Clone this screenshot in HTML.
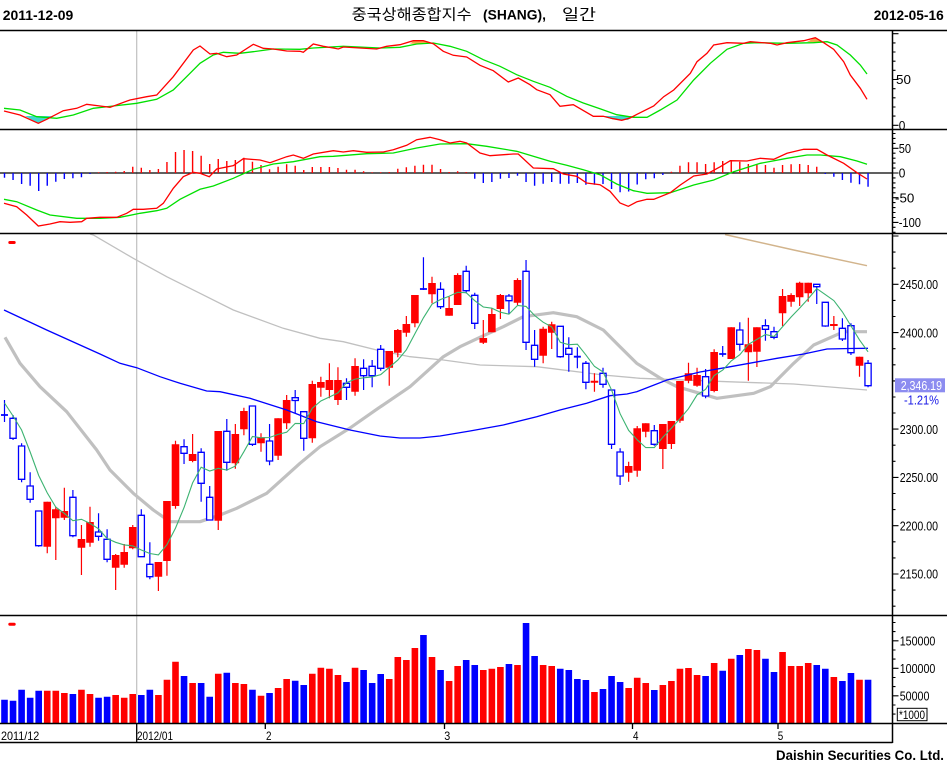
<!DOCTYPE html>
<html><head><meta charset="utf-8"><style>
html,body{margin:0;padding:0;background:#fff;}
svg{display:block;}
text{font-family:"Liberation Sans",sans-serif;}
</style></head><body>
<svg width="947" height="767" viewBox="0 0 947 767" xmlns="http://www.w3.org/2000/svg">
<rect width="947" height="767" fill="#fff"/>
<!-- header -->
<text x="2.7" y="20" font-size="14" font-weight="bold" textLength="70.6" lengthAdjust="spacingAndGlyphs">2011-12-09</text>
<text x="873.7" y="20" font-size="14" font-weight="bold" textLength="70" lengthAdjust="spacingAndGlyphs">2012-05-16</text>
<text x="351.7" y="19.5" font-size="15" textLength="120" lengthAdjust="spacingAndGlyphs" style="font-family:'Liberation Sans','Noto Sans CJK KR',sans-serif">중국상해종합지수</text>
<text x="483" y="19.5" font-size="14" font-weight="bold" textLength="63" lengthAdjust="spacingAndGlyphs">(SHANG),</text>
<text x="562" y="19.5" font-size="15" textLength="34" lengthAdjust="spacingAndGlyphs" style="font-family:'Liberation Sans','Noto Sans CJK KR',sans-serif">일간</text>

<!-- vertical month separator -->
<path d="M136.7 30V723" stroke="#c0c0c0" stroke-width="1.2" fill="none"/>

<!-- STOCHASTIC PANEL -->
<polygon points="25,116 51.7,116 38.3,123.3" fill="#40d8d0"/>
<polygon points="601,116 633,116 628,120 613,119.5" fill="#40d8d0"/>
<polygon points="410,43.5 414,40.7 423.3,40.7 431.7,43.3 420,44.2" fill="#f5a44a"/>
<polygon points="807,41.7 815.3,37.7 823.7,42.7 815,42.6" fill="#f5a44a"/>
<polyline fill="none" stroke="#00e000" stroke-width="1.3" points="4,108.3 20,110 36.7,116.7 56.7,118.3 73.3,115 93.3,108.3 113.3,106 136.7,103.3 156.7,99.3 173.3,90 190,73.3 200,63.3 213.3,55 223.3,52.3 240,53.3 253.3,51.7 273.3,49 300,49.3 313.3,48 343.3,46.3 380,48 400,47.3 416.7,44 433.3,43 450,46.3 466.7,51.3 483.3,59.7 500,66.3 516.7,74.7 533.3,81.3 550,87.3 566.7,96.3 583.3,103 600,108.7 616.7,114.7 633.3,117.3 647,117.3 660.3,110 677,100 693.7,80 710.3,63.3 727,49.3 743.7,43.3 757,42.7 787,43.3 813.7,42.7 827,41.7 837,45 850.3,55 860.3,65 867,74"/>
<polyline fill="none" stroke="#ff0000" stroke-width="1.3" points="4,111 20,115 38.3,123.3 46.7,119.3 63.3,110.7 76.7,108.3 86.7,104.3 100,106 110,107.3 130,100 146.7,96.7 156.7,95 173.3,76.7 193.3,50 200,46 210,54 216.7,53.3 226.7,56.7 236.7,55 253.3,44.3 263.3,48.3 273.3,49 286.7,51 300,51.3 303.3,52.3 313.3,44 323.3,46.3 333.3,48 338.3,49 343.3,47 360,48 376.7,49 386.7,46.3 400,44.7 413.3,40.7 423.3,40.7 433.3,43.7 443.3,51.3 453.3,55.3 466.7,57 480,65.3 493.3,70.7 508.3,82 518.3,78 530,84.7 536.7,89.7 550,94.7 560,106.3 573.3,104.7 593.3,116.3 603.3,116.3 613.3,118.7 621.7,120.3 630,118 637,114.3 653.7,106 663.7,96.7 673.7,90 690.3,73.3 697,61.7 707,53.3 713.7,45 727,42.7 743.7,43.3 750.3,41.7 770.3,43.3 777,45 787,42.7 803.7,40.7 815.3,37.7 823.7,42.7 833.7,49.3 843.7,61.7 850.3,75 860.3,88.3 867,99.3"/>

<!-- MACD PANEL -->
<path d="M0 173H892.5" stroke="#000" stroke-width="1.2"/>
<path fill="none" stroke="#0000ff" stroke-width="1.4" d="M4.5 173V177.7M13.05 173V180M21.6 173V184M30.15 173V185.7M38.7 173V191M47.25 173V185.7M55.8 173V181.7M64.35 173V179M72.9 173V178.3M81.45 173V177.3M90 173V174M474.75 173V178.7M483.3 173V183M491.85 173V182M500.4 173V178.7M508.95 173V178M517.5 173V175.7M526.05 173V182M534.6 173V185.7M543.15 173V183.7M551.7 173V182M560.25 173V183.7M568.8 173V183.7M577.35 173V183M585.9 173V184.7M594.45 173V184.7M603 173V184M611.55 173V189M620.1 173V192.3M628.65 173V191.5M637.2 173V184.5M645.75 173V179.3M654.3 173V178.3M662.85 173V175M825.3 173V174M833.85 173V176.7M842.4 173V180M850.95 173V182.7M859.5 173V184.3M868.05 173V186.7"/>
<path fill="none" stroke="#ff0000" stroke-width="1.4" d="M98.55 173V172.3M107.1 173V172M115.65 173V171.7M124.2 173V171M132.75 173V166.7M141.3 173V167.7M149.85 173V170M158.4 173V169M166.95 173V162M175.5 173V152M184.05 173V150M192.6 173V151M201.15 173V155.7M209.7 173V164M218.25 173V159M226.8 173V161M235.35 173V160M243.9 173V157.7M252.45 173V161.7M261 173V165M269.55 173V169.3M278.1 173V166.7M286.65 173V164.3M295.2 173V165.7M303.75 173V170M312.3 173V167M320.85 173V167M329.4 173V167M337.95 173V168M346.5 173V169.7M355.05 173V169.7M363.6 173V171.3M372.15 173V172.3M380.7 173V172.3M389.25 173V172M397.8 173V168.7M406.35 173V167.3M414.9 173V165.7M423.45 173V164.7M432 173V164.7M440.55 173V169M449.1 173V172M457.65 173V171.3M466.2 173V172M671.4 173V171.7M679.95 173V165.7M688.5 173V162.3M697.05 173V162.3M705.6 173V164M714.15 173V162.3M722.7 173V161M731.25 173V160M739.8 173V161.7M748.35 173V164M756.9 173V164M765.45 173V165M774 173V167.7M782.55 173V165M791.1 173V164.3M799.65 173V164M808.2 173V165M816.75 173V166.7"/>
<polyline fill="none" stroke="#00e000" stroke-width="1.3" points="4,199.3 16.7,201.7 36.7,210 50,215 76.7,218.3 100,218.3 120,217.3 140,213.3 156.7,210.7 166.7,208.3 180,199.3 200,189.3 213.3,186 233.3,178.3 253.3,169.3 273.3,164 293.3,161.7 320,156.7 333.3,156.3 366.7,153.7 393.3,153 416.7,148 440,144 466.7,143.7 486.7,146.3 516.7,151.3 533.3,156.3 550,161.3 566.7,165.3 583.3,169.7 600,174.7 616.7,184 633.3,190.7 647,193.3 670.3,192.7 693.7,185 713.7,180 733.7,171.7 760.3,163.3 787,158.3 807,155 820.3,155 840.3,156.7 857,161 867,164.3"/>
<polyline fill="none" stroke="#ff0000" stroke-width="1.3" points="4,203.3 16.7,206.7 26.7,215 38.3,226 50,224 60,221.7 70,222.3 81.7,221.7 86.7,218.3 100,217.3 116.7,217.3 126.7,213.3 133.3,209.3 143.3,209.3 156.7,208.3 163.3,203.3 173.3,188.3 183.3,176.7 193.3,172.3 200,173.3 209.3,176.7 216.7,169 233.3,165.7 243.3,158.7 260,160 270,162.7 286.7,156.7 293.3,155 303.3,158.3 313.3,154 333.3,150.7 343.3,152 353.3,150.7 366.7,152.3 383.3,152 393.3,149.7 406.7,145.3 416.7,139.7 430,137.3 440,139.7 450,143 460,141.3 466.7,143 480,153 490,155.7 513.3,154 518.3,154 533.3,168 553.3,168.7 563.3,174 576.7,176.3 586.7,183 600,184.7 610,191.3 620,203 628.3,206.3 637,201.7 647,199.3 653.7,199.3 670.3,192.7 680.3,185 693.7,176 707,174 720.3,166.7 730.3,160.7 747,161 760.3,158.3 773.7,159.3 787,153.3 803.7,149.3 817,149.3 827,155 843.7,163.3 857,172.7 867,179"/>

<!-- PRICE PANEL -->
<rect x="8.3" y="241" width="7.4" height="3" rx="1.5" fill="#ff0000"/>
<polyline fill="none" stroke="#c0c0c0" stroke-width="1.3" points="90,234 93.3,235 133.3,258.3 166.7,276.7 200,293.3 233.3,310 283.3,328.3 320,338.3 343.3,341.7 376.7,350 410,356.7 443.3,360 480,365 536.7,366.7 603.3,375 640,378.3 727,381.7 793.7,384 867,390"/>
<polyline fill="none" stroke="#d2b48c" stroke-width="1.5" points="725,234.5 727,235 793.7,250 867,265.7"/>
<polyline fill="none" stroke="#c0c0c0" stroke-width="3.2" stroke-linejoin="round" points="5,337.3 20,363.3 40,386.7 66.7,411.7 96.7,450 110,470 133.3,493.3 153.3,510 170,521.7 200,521.7 220,515 236.7,508.3 266.7,493.3 300,463.3 320,446.7 350,428 376.7,409.3 410,386.7 443.3,356.7 460,346.7 480,337.3 503.3,326.7 523.3,316.7 553.3,312.7 576.7,316.7 603.3,330 620,346.7 636.7,363.3 660,378 677,386.7 717,398.3 753.7,393.3 770.3,386.7 793.7,363.3 813.7,345 843.7,331.7 867,331.7"/>

<!-- red candles -->
<path fill="none" stroke="#ff0000" stroke-width="1.2" d="M47.25 501.7V553.3M55.8 506.7V560M64.35 487.7V520M81.45 525V575M90 506.7V546.7M115.65 554V590M124.2 544V567.7M132.75 525V549.3M158.4 562V591M166.95 501V575.7M175.5 440.7V508.7M192.6 434V462.3M218.25 431V530M235.35 424V468.7M243.9 407.7V435.3M261 433.3V451.7M278.1 418.3V460M286.65 395V429M312.3 380.7V442.7M320.85 376.7V396.7M329.4 363.3V398.3M337.95 367.3V405M355.05 358.3V395.7M389.25 351V385.7M397.8 329V357.3M406.35 316V336.7M414.9 295V327.3M432 276.7V303.3M449.1 296.7V315.7M457.65 273.3V305M483.3 320V344M491.85 308.3V332.3M500.4 294V319M517.5 278.3V305M543.15 326.7V363.3M551.7 321.7V349M594.45 373.3V391.7M628.65 461.7V481.7M637.2 426V476.7M645.75 423.3V437.3M662.85 424V469M671.4 421V449M679.95 381V422.7M688.5 362.7V383.3M697.05 367.7V386.7M714.15 349.3V392.3M731.25 327.3V359M748.35 317.7V380.7M756.9 327.3V367M782.55 289V326M791.1 293.3V306.7M799.65 281.7V306M808.2 282.7V301.7M833.85 316V330M859.5 356.7V376.7"/>
<path fill="#ff0000" d="M43.45 501.7h7.6v45h-7.6zM52 509.3h7.6v9h-7.6zM60.55 511h7.6v6.7h-7.6zM77.65 539h7.6v8.7h-7.6zM86.2 522h7.6v20.7h-7.6zM111.85 555h7.6v12.7h-7.6zM120.4 552h7.6v12.7h-7.6zM128.95 527h7.6v21.3h-7.6zM154.6 562h7.6v14.7h-7.6zM163.15 501h7.6v60h-7.6zM171.7 444.3h7.6v61.7h-7.6zM188.8 454h7.6v7h-7.6zM214.45 431h7.6v89.7h-7.6zM231.55 434h7.6v29.3h-7.6zM240.1 411h7.6v18.3h-7.6zM257.2 437.3h7.6v6h-7.6zM274.3 418.3h7.6v37.4h-7.6zM282.85 400h7.6v23.3h-7.6zM308.5 384h7.6v54.3h-7.6zM317.05 382h7.6v5.7h-7.6zM325.6 380h7.6v10h-7.6zM334.15 380h7.6v20h-7.6zM351.25 366h7.6v25.7h-7.6zM385.45 351h7.6v16.7h-7.6zM394 330h7.6v22.7h-7.6zM402.55 324h7.6v8.7h-7.6zM411.1 295h7.6v28.3h-7.6zM428.2 283h7.6v11.3h-7.6zM445.3 308h7.6v7.7h-7.6zM453.85 275h7.6v30h-7.6zM479.5 338h7.6v4.7h-7.6zM488.05 314h7.6v18.3h-7.6zM496.6 295h7.6v14h-7.6zM513.7 280h7.6v22.7h-7.6zM539.35 328.7h7.6v27h-7.6zM547.9 324.3h7.6v8.4h-7.6zM590.65 380.7h7.6v2h-7.6zM624.85 466h7.6v6.7h-7.6zM633.4 428.3h7.6v42.4h-7.6zM641.95 423.3h7.6v8.4h-7.6zM659.05 424h7.6v25h-7.6zM667.6 421h7.6v23h-7.6zM676.15 381h7.6v39.7h-7.6zM684.7 373.3h7.6v7.4h-7.6zM693.25 375h7.6v10.7h-7.6zM710.35 352h7.6v39h-7.6zM727.45 327.3h7.6v31.7h-7.6zM744.55 344.3h7.6v8h-7.6zM753.1 327.3h7.6v24.4h-7.6zM778.75 296h7.6v17.3h-7.6zM787.3 295h7.6v6.7h-7.6zM795.85 282.7h7.6v14.6h-7.6zM804.4 282.7h7.6v10.6h-7.6zM830.05 324h7.6v2h-7.6zM855.7 356.7h7.6v9h-7.6z"/>
<!-- blue candles -->
<path fill="none" stroke="#0000ff" stroke-width="1.2" d="M4.5 400V422M13.05 415V440M21.6 443.3V482.3M30.15 472.3V502.7M38.7 511V546.7M72.9 490V537.3M98.55 513.3V540.7M107.1 529.3V562.3M141.3 509.3V556.7M149.85 542.3V579.3M184.05 439.3V464M201.15 448.3V501.7M209.7 486V520M226.8 419V470.7M252.45 406V446M269.55 424V465.3M295.2 390V413.3M303.75 411.7V450.7M346.5 378.3V400M363.6 359.3V390M372.15 360V387.3M380.7 345V370.7M423.45 257.3V290M440.55 282.3V309M466.2 265.7V293.3M474.75 292.7V329M508.95 294V314M526.05 260V350M534.6 330V366.7M560.25 326.3V357.7M568.8 337.3V371.7M577.35 347.3V368.3M585.9 361V389.3M603 367.7V387.7M611.55 390V449M620.1 448.3V485M654.3 425V445.7M705.6 369V398.3M722.7 346V356.7M739.8 322.3V350.7M765.45 319.3V340.7M774 326.7V339.3M816.75 284.3V304M825.3 302.3V326.7M842.4 318.3V341M850.95 323.3V355M868.05 360V387.3"/>
<path fill="none" stroke="#0000ff" stroke-width="1.8" d="M1 415H8M419.95 289H426.95M573.85 356.7H580.85M719.2 354H726.2"/>
<path fill="#fff" stroke="#0000ff" stroke-width="1.3" d="M9.95 418.3h6.2v20h-6.2zM18.5 446h6.2v33.3h-6.2zM27.05 486h6.2v13.3h-6.2zM35.6 511h6.2v34.7h-6.2zM69.8 497.3h6.2v38.4h-6.2zM95.45 532h6.2v4.3h-6.2zM104 539.3h6.2v20h-6.2zM138.2 515.3h6.2v41.4h-6.2zM146.75 564.3h6.2v12.4h-6.2zM180.95 446.7h6.2v6.6h-6.2zM198.05 452.3h6.2v31h-6.2zM206.6 497.3h6.2v22.7h-6.2zM223.7 431.3h6.2v31h-6.2zM249.35 406h6.2v38.3h-6.2zM266.45 441h6.2v20h-6.2zM292.1 397.7h6.2v2.8h-6.2zM300.65 411.7h6.2v26.6h-6.2zM343.4 383.3h6.2v4h-6.2zM360.5 368.3h6.2v7.4h-6.2zM369.05 366.3h6.2v9.4h-6.2zM377.6 349.3h6.2v19h-6.2zM437.45 289.3h6.2v17.4h-6.2zM463.1 271.3h6.2v19.4h-6.2zM471.65 295.3h6.2v28h-6.2zM505.85 296h6.2v4.7h-6.2zM522.95 271.3h6.2v71h-6.2zM531.5 345.3h6.2v14h-6.2zM557.15 326.3h6.2v30.4h-6.2zM565.7 348.3h6.2v6h-6.2zM582.8 363.3h6.2v19h-6.2zM599.9 373.3h6.2v11h-6.2zM608.45 390h6.2v54.3h-6.2zM617 452h6.2v24h-6.2zM651.2 430.7h6.2v13.6h-6.2zM702.5 376.7h6.2v19.3h-6.2zM736.7 330h6.2v14.3h-6.2zM762.35 325.7h6.2v3.6h-6.2zM770.9 331.7h6.2v5.6h-6.2zM813.65 284.3h6.2v2.4h-6.2zM822.2 302.3h6.2v23.7h-6.2zM839.3 328.3h6.2v10.7h-6.2zM847.85 325.7h6.2v27h-6.2zM864.95 363.3h6.2v22.4h-6.2z"/>

<polyline fill="none" stroke="#0000ff" stroke-width="1.3" points="4,310 46.7,330 80,345 100,354 120,363.3 136.7,367.7 160,376.7 180,383.3 206.7,391 220,391.7 250,398.3 286.7,410 316.7,421.7 350,430 380,436 400,438 420,438 440,436 470,431 503.3,425 536.7,416.7 560,410 586.7,403.3 610,395.7 627,394 636.7,391.7 667,380 700,372 727,367.3 777,358.3 803.7,354 827,349 850,348.5 868,348.3"/>
<polyline fill="none" stroke="#3cb371" stroke-width="1.1" points="4.5,403 13.05,416 21.6,430 30.15,452 38.7,475.5 47.25,492.9 55.8,507.1 64.35,513.4 72.9,520.7 81.45,519.3 90,523.4 98.55,528.8 107.1,538.5 115.65,542.3 124.2,544.9 132.75,545.9 141.3,550 149.85,553.5 158.4,554.9 166.95,544.7 175.5,528.1 184.05,507.5 192.6,482.9 201.15,467.2 209.7,471 218.25,468.3 226.8,470.1 235.35,466.1 243.9,451.7 252.45,436.5 261,437.8 269.55,437.5 278.1,434.4 286.65,432.2 295.2,423.4 303.75,423.6 312.3,408.2 320.85,401 329.4,397 337.95,392.9 346.5,382.7 355.05,379.1 363.6,377.8 372.15,376.9 380.7,374.6 389.25,367.3 397.8,360.1 406.35,349.8 414.9,333.7 423.45,317.8 432,304.2 440.55,299.5 449.1,296.3 457.65,292.3 466.2,292.7 474.75,300.7 483.3,307 491.85,308.2 500.4,312.2 508.95,314.2 517.5,305.5 526.05,306.4 534.6,315.5 543.15,322.2 551.7,326.9 560.25,342.3 568.8,344.7 577.35,344.2 585.9,354.9 594.45,366.4 603,371.9 611.55,389.9 620.1,413.7 628.65,430.4 637.2,439.8 645.75,447.6 654.3,447.6 662.85,437.2 671.4,428.2 679.95,418.7 688.5,408.7 697.05,394.9 705.6,389.3 714.15,375.5 722.7,370.1 731.25,360.9 739.8,354.7 748.35,344.4 756.9,339.4 765.45,334.5 774,336.5 782.55,326.8 791.1,317 799.65,308.1 808.2,298.7 816.75,288.6 825.3,294.6 833.85,300.6 842.4,311.9 850.95,325.9 859.5,339.9 868.05,351.8"/>

<!-- VOLUME PANEL -->
<rect x="8.3" y="622.7" width="7.4" height="3" rx="1.5" fill="#ff0000"/>
<path fill="#0000ff" d="M1.2 699.7h6.6V723.3h-6.6zM9.75 700.7h6.6V723.3h-6.6zM18.3 689.7h6.6V723.3h-6.6zM26.85 697.7h6.6V723.3h-6.6zM35.4 690.7h6.6V723.3h-6.6zM69.6 694h6.6V723.3h-6.6zM95.25 697.7h6.6V723.3h-6.6zM103.8 696.7h6.6V723.3h-6.6zM138 695h6.6V723.3h-6.6zM146.55 689.7h6.6V723.3h-6.6zM180.75 676h6.6V723.3h-6.6zM197.85 683h6.6V723.3h-6.6zM206.4 696.7h6.6V723.3h-6.6zM223.5 672.7h6.6V723.3h-6.6zM249.15 689.7h6.6V723.3h-6.6zM266.25 693h6.6V723.3h-6.6zM291.9 680.7h6.6V723.3h-6.6zM300.45 685h6.6V723.3h-6.6zM343.2 682h6.6V723.3h-6.6zM360.3 670h6.6V723.3h-6.6zM368.85 683h6.6V723.3h-6.6zM377.4 674h6.6V723.3h-6.6zM420.15 635h6.6V723.3h-6.6zM437.25 670h6.6V723.3h-6.6zM462.9 660h6.6V723.3h-6.6zM471.45 665h6.6V723.3h-6.6zM505.65 664h6.6V723.3h-6.6zM522.75 623h6.6V723.3h-6.6zM531.3 656h6.6V723.3h-6.6zM556.95 668.7h6.6V723.3h-6.6zM565.5 670h6.6V723.3h-6.6zM574.05 679h6.6V723.3h-6.6zM582.6 680h6.6V723.3h-6.6zM599.7 689h6.6V723.3h-6.6zM608.25 676h6.6V723.3h-6.6zM616.8 682h6.6V723.3h-6.6zM651 690h6.6V723.3h-6.6zM702.3 676h6.6V723.3h-6.6zM719.4 670.7h6.6V723.3h-6.6zM736.5 655h6.6V723.3h-6.6zM762.15 658.7h6.6V723.3h-6.6zM770.7 672h6.6V723.3h-6.6zM813.45 665h6.6V723.3h-6.6zM822 668.7h6.6V723.3h-6.6zM839.1 681h6.6V723.3h-6.6zM847.65 673h6.6V723.3h-6.6zM864.75 679.7h6.6V723.3h-6.6z"/>
<path fill="#ff0000" d="M43.95 690.7h6.6V723.3h-6.6zM52.5 690.7h6.6V723.3h-6.6zM61.05 693h6.6V723.3h-6.6zM78.15 689.7h6.6V723.3h-6.6zM86.7 694h6.6V723.3h-6.6zM112.35 695h6.6V723.3h-6.6zM120.9 697.7h6.6V723.3h-6.6zM129.45 694h6.6V723.3h-6.6zM155.1 695h6.6V723.3h-6.6zM163.65 679.7h6.6V723.3h-6.6zM172.2 661.7h6.6V723.3h-6.6zM189.3 683h6.6V723.3h-6.6zM214.95 673.7h6.6V723.3h-6.6zM232.05 683h6.6V723.3h-6.6zM240.6 684h6.6V723.3h-6.6zM257.7 695.7h6.6V723.3h-6.6zM274.8 688h6.6V723.3h-6.6zM283.35 679h6.6V723.3h-6.6zM309 673.7h6.6V723.3h-6.6zM317.55 667.7h6.6V723.3h-6.6zM326.1 668.7h6.6V723.3h-6.6zM334.65 675h6.6V723.3h-6.6zM351.75 667.7h6.6V723.3h-6.6zM385.95 679h6.6V723.3h-6.6zM394.5 657h6.6V723.3h-6.6zM403.05 660h6.6V723.3h-6.6zM411.6 648h6.6V723.3h-6.6zM428.7 657h6.6V723.3h-6.6zM445.8 681h6.6V723.3h-6.6zM454.35 666h6.6V723.3h-6.6zM480 670h6.6V723.3h-6.6zM488.55 668.7h6.6V723.3h-6.6zM497.1 667h6.6V723.3h-6.6zM514.2 665h6.6V723.3h-6.6zM539.85 665h6.6V723.3h-6.6zM548.4 666h6.6V723.3h-6.6zM591.15 692h6.6V723.3h-6.6zM625.35 688h6.6V723.3h-6.6zM633.9 677.7h6.6V723.3h-6.6zM642.45 683h6.6V723.3h-6.6zM659.55 685h6.6V723.3h-6.6zM668.1 681h6.6V723.3h-6.6zM676.65 668.7h6.6V723.3h-6.6zM685.2 668h6.6V723.3h-6.6zM693.75 675h6.6V723.3h-6.6zM710.85 663h6.6V723.3h-6.6zM727.95 658.7h6.6V723.3h-6.6zM745.05 649h6.6V723.3h-6.6zM753.6 650h6.6V723.3h-6.6zM779.25 652h6.6V723.3h-6.6zM787.8 666h6.6V723.3h-6.6zM796.35 666h6.6V723.3h-6.6zM804.9 663h6.6V723.3h-6.6zM830.55 677h6.6V723.3h-6.6zM856.2 679.7h6.6V723.3h-6.6z"/>

<!-- panel borders -->
<path fill="none" stroke="#000" stroke-width="1.5" d="M0 30.5H947M0 129.5H947M0 233.5H947M0 615.5H947M0 723.5H947M0 742.5H892.5M892.5 30V743"/>
<path fill="none" stroke="#000" stroke-width="1.3" d="M136.7 723V742.5M265.3 723V729M444.5 723V729M632.5 723V729M778 723V729"/>

<!-- right axis ticks -->
<path fill="none" stroke="#000" stroke-width="1.1" d="M892.5 33.7h6M892.5 79.5h6M892.5 125.3h6M892.5 42.9h3M892.5 52h3M892.5 61.2h3M892.5 70.3h3M892.5 88.7h3M892.5 97.8h3M892.5 107h3M892.5 116.1h3
M892.5 148.3h6M892.5 173h6M892.5 197.7h6M892.5 222.4h6M892.5 133.5h3M892.5 138.4h3M892.5 143.4h3M892.5 153.2h3M892.5 158.2h3M892.5 163.1h3M892.5 168.1h3M892.5 177.9h3M892.5 182.9h3M892.5 187.8h3M892.5 192.8h3M892.5 202.6h3M892.5 207.6h3M892.5 212.5h3M892.5 217.5h3M892.5 227.3h3M892.5 232.3h3
M892.5 236h6M892.5 284.3h6M892.5 332.6h6M892.5 380.9h6M892.5 429.1h6M892.5 477.4h6M892.5 525.7h6M892.5 574h6M892.5 252.1h3M892.5 268.2h3M892.5 300.4h3M892.5 316.5h3M892.5 348.7h3M892.5 364.8h3M892.5 397h3M892.5 413h3M892.5 445.2h3M892.5 461.3h3M892.5 493.5h3M892.5 509.6h3M892.5 541.8h3M892.5 557.9h3M892.5 590.1h3M892.5 606.2h3
M892.5 640.8h6M892.5 668.3h6M892.5 695.8h6M892.5 622.5h3M892.5 631.6h3M892.5 650h3M892.5 659.1h3M892.5 677.5h3M892.5 686.6h3M892.5 705h3M892.5 714.1h3"/>

<!-- right axis labels -->
<g font-size="13" fill="#000">
<text x="896" y="84" textLength="15" lengthAdjust="spacingAndGlyphs">50</text>
<text x="898.7" y="130" textLength="6.6" lengthAdjust="spacingAndGlyphs">0</text>
<text x="898.7" y="153" textLength="12.3" lengthAdjust="spacingAndGlyphs">50</text>
<text x="898.7" y="177.6" textLength="6.6" lengthAdjust="spacingAndGlyphs">0</text>
<text x="895" y="202.3" textLength="19.3" lengthAdjust="spacingAndGlyphs">-50</text>
<text x="898.7" y="227" textLength="22.3" lengthAdjust="spacingAndGlyphs">-100</text>
<text x="899.7" y="289" textLength="38.3" lengthAdjust="spacingAndGlyphs">2450.00</text>
<text x="899.7" y="337.3" textLength="38.3" lengthAdjust="spacingAndGlyphs">2400.00</text>
<text x="899.7" y="433.8" textLength="38.3" lengthAdjust="spacingAndGlyphs">2300.00</text>
<text x="899.7" y="482" textLength="38.3" lengthAdjust="spacingAndGlyphs">2250.00</text>
<text x="899.7" y="530.3" textLength="38.3" lengthAdjust="spacingAndGlyphs">2200.00</text>
<text x="899.7" y="578.6" textLength="38.3" lengthAdjust="spacingAndGlyphs">2150.00</text>
<text x="899.7" y="645.4" textLength="35.7" lengthAdjust="spacingAndGlyphs">150000</text>
<text x="899.7" y="672.9" textLength="35.7" lengthAdjust="spacingAndGlyphs">100000</text>
<text x="899.7" y="700.4" textLength="29.7" lengthAdjust="spacingAndGlyphs">50000</text>
</g>
<rect x="897.3" y="708.3" width="29.7" height="12.4" fill="#fff" stroke="#000" stroke-width="1"/>
<text x="899" y="719" font-size="12" textLength="26" lengthAdjust="spacingAndGlyphs">*1000</text>

<!-- current price box -->
<rect x="895" y="378.3" width="50" height="14" fill="#8c8cf0"/>
<text x="900.7" y="389.8" font-size="13" fill="#fff" textLength="41.3" lengthAdjust="spacingAndGlyphs">2,346.19</text>
<text x="904" y="404.5" font-size="13" fill="#1a1ae6" textLength="35" lengthAdjust="spacingAndGlyphs">-1.21%</text>

<!-- x axis labels -->
<g font-size="12" fill="#000">
<text x="1" y="740" textLength="38.3" lengthAdjust="spacingAndGlyphs">2011/12</text>
<text x="137" y="740" textLength="36" lengthAdjust="spacingAndGlyphs">2012/01</text>
<text x="266" y="740" textLength="5.5" lengthAdjust="spacingAndGlyphs">2</text>
<text x="444.3" y="740" textLength="6" lengthAdjust="spacingAndGlyphs">3</text>
<text x="633" y="740" textLength="5.5" lengthAdjust="spacingAndGlyphs">4</text>
<text x="777.7" y="740" textLength="5.5" lengthAdjust="spacingAndGlyphs">5</text>
</g>

<!-- footer -->
<text x="776" y="760" font-size="14" font-weight="bold" textLength="168" lengthAdjust="spacingAndGlyphs">Daishin Securities Co. Ltd.</text>
</svg>
</body></html>
